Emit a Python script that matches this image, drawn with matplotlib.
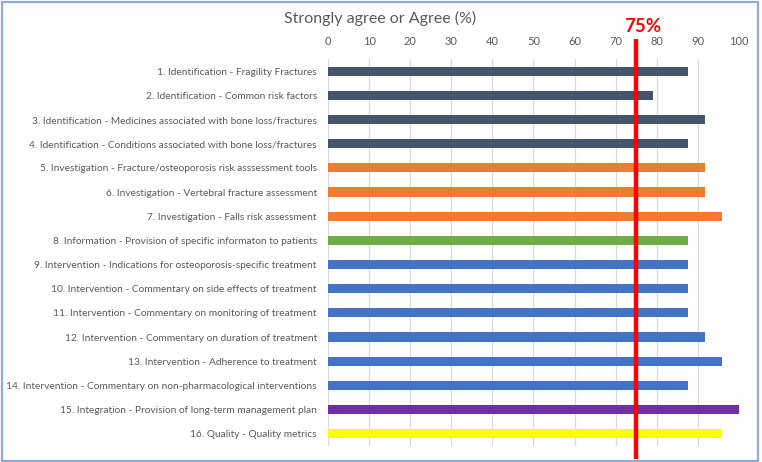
import matplotlib as mpl

mpl.use("Agg")

import matplotlib.pyplot as plt
import numpy as np
from matplotlib.patches import Rectangle

labels = [
    "1. Identification - Fragility Fractures",
    "2. Identification - Common risk factors",
    "3. Identification - Medicines associated with bone loss/fractures",
    "4. Identification - Conditions associated with bone loss/fractures",
    "5. Investigation - Fracture/osteoporosis risk asssessment tools",
    "6. Investigation - Vertebral fracture assessment",
    "7. Investigation - Falls risk assessment",
    "8. Information - Provision of specific informaton to patients",
    "9. Intervention - Indications for osteoporosis-specific treatment",
    "10. Intervention - Commentary on side effects of treatment",
    "11. Intervention - Commentary on monitoring of treatment",
    "12. Intervention - Commentary on duration of treatment",
    "13. Intervention - Adherence to treatment",
    "14. Intervention - Commentary on non-pharmacological interventions",
    "15. Integration - Provision of long-term management plan",
    "16. Quality - Quality metrics",
]
agree_pct = [87.5, 79.2, 91.7, 87.5, 91.7, 91.7, 95.8, 87.5,
             87.5, 87.5, 87.5, 91.7, 95.8, 87.5, 100.0, 95.8]
domains = ["Identification"] * 4 + ["Investigation"] * 3 + ["Information"] + \
          ["Intervention"] * 6 + ["Integration", "Quality"]
threshold = 75
x_ticks = list(range(0, 101, 10))

domain_colors = {
    "Identification": "#44546A",
    "Investigation": "#ED7D31",
    "Information": "#70AD47",
    "Intervention": "#4472C4",
    "Integration": "#7030A0",
    "Quality": "#FFFF00",
}

plt.rcParams["font.family"] = ["Lato", "DejaVu Sans"]
text_grey = "#595959"

fig = plt.figure(figsize=(7.62, 4.62), dpi=100)
fig.patch.set_facecolor("white")
ax = fig.add_axes([0.4304, 0.035, 0.5394, 0.837])

y = np.arange(len(labels))
ax.barh(y, agree_pct, height=0.38, color=[domain_colors[d] for d in domains], zorder=2)
ax.set_ylim(len(labels) - 0.5, -0.5)
ax.set_xlim(0, 100)
ax.set_yticks(y)
ax.set_yticklabels(labels, fontsize=7.3, color=text_grey)
ax.set_xticks(x_ticks)
ax.set_xticklabels([str(t) for t in x_ticks], fontsize=8, color=text_grey)
ax.xaxis.tick_top()
ax.tick_params(axis="y", length=0, pad=8)
ax.tick_params(axis="x", length=0, pad=9)
for s in ax.spines.values():
    s.set_visible(False)
ax.grid(axis="x", color="#D9D9D9", linewidth=0.9, zorder=0)
ax.set_axisbelow(True)

# threshold line runs a bit past the plot area, as in the original
ax.plot([threshold, threshold], [-1.33, 16.05], color="#FF0000", linewidth=3.2,
        zorder=4, clip_on=False, solid_capstyle="butt")
ax.text(threshold + 1.6, -1.5, f"{threshold}%", color="#FF0000", fontsize=13.5,
        fontweight="bold", ha="center", va="bottom")

fig.text(0.499, 0.96, "Strongly agree or Agree (%)", fontsize=11.5, color=text_grey,
         ha="center", va="center")

fig.patches.append(Rectangle((0.002, 0.003), 0.993, 0.993, transform=fig.transFigure,
                             fill=False, edgecolor="#8FAADC", linewidth=1.6))

fig.savefig("out.png", dpi=100, facecolor="white")
plt.close(fig)
